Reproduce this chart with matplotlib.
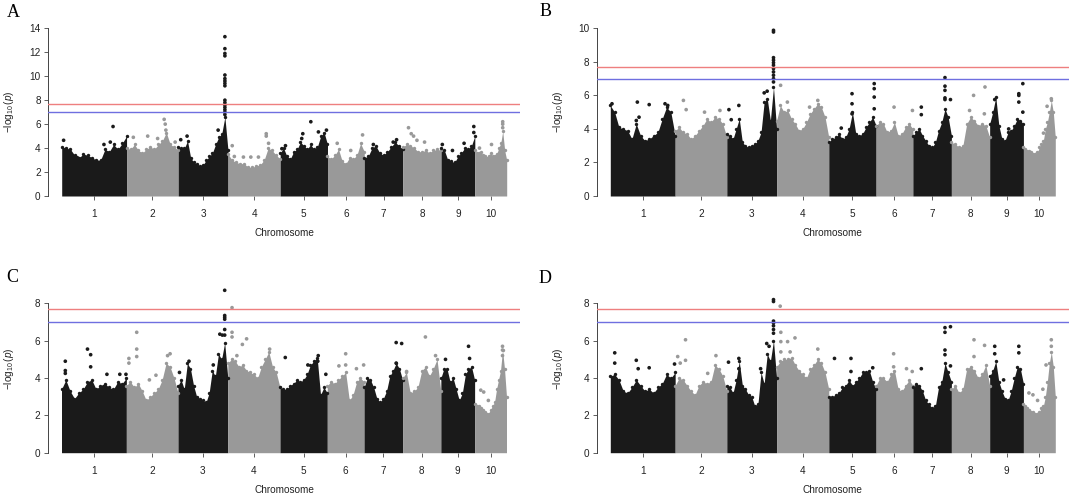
import numpy as np
import matplotlib.pyplot as plt

plt.rcParams['font.family'] = ['Liberation Sans', 'DejaVu Sans']
plt.rcParams['mathtext.fontset'] = 'custom'
plt.rcParams['mathtext.rm'] = 'Liberation Sans'
plt.rcParams['mathtext.it'] = 'Liberation Sans:italic'

# maize chromosomes (Mb)
chrom_names = ['1', '2', '3', '4', '5', '6', '7', '8', '9', '10']
chrom_len = [307.0, 244.4, 235.7, 247.0, 223.9, 174.0, 182.4, 181.1, 159.8, 150.9]
chrom_cols = ['#1a1a1a', '#999999']
red_line = 7.7
blue_line = 6.98

# upper outline of the dense point cloud, evenly spaced along each chromosome
env_a = [
    [4.1, 4.0, 3.9, 3.4, 3.2, 3.5, 3.4, 3.2, 3.0, 3.0, 3.9, 3.7, 4.3, 3.9, 4.4, 5.0],
    [4.0, 3.9, 4.3, 3.8, 3.6, 3.9, 4.1, 3.9, 4.3, 4.6, 5.3, 4.3, 4.1, 3.8],
    [4.1, 4.0, 4.0, 4.6, 3.2, 2.8, 2.7, 2.5, 2.6, 3.0, 3.3, 3.6, 4.3, 4.9, 5.2, 6.6, 3.8],
    [3.5, 3.0, 2.8, 2.7, 2.7, 2.4, 2.4, 2.5, 2.6, 3.0, 4.0, 3.8, 3.4, 3.1],
    [3.6, 4.0, 3.3, 3.1, 3.7, 3.9, 4.5, 4.2, 3.9, 4.3, 3.9, 4.1, 5.0, 5.3, 4.3],
    [3.3, 3.1, 3.4, 3.9, 2.9, 2.7, 3.2, 3.1, 3.4, 4.4, 3.7],
    [3.2, 3.3, 4.0, 4.2, 3.6, 3.4, 3.7, 4.1, 4.5, 4.2, 3.9],
    [4.1, 4.3, 4.2, 4.0, 3.7, 3.7, 3.8, 3.6, 3.8, 3.9, 3.8],
    [4.0, 3.8, 3.0, 2.9, 2.8, 3.3, 3.6, 4.0, 3.9, 4.2, 5.0],
    [3.8, 3.6, 3.6, 3.7, 3.4, 3.3, 3.2, 3.3, 3.6, 3.3, 3.3, 3.5, 4.0, 4.4, 5.4, 3.8, 3.0],
]
env_b = [
    [5.4, 5.0, 4.1, 4.0, 3.9, 3.4, 4.3, 3.6, 3.3, 3.4, 3.6, 3.8, 4.6, 5.3, 5.0, 3.6],
    [3.9, 4.1, 3.8, 3.7, 3.4, 3.6, 3.9, 4.2, 4.6, 4.4, 4.7, 4.6, 4.3, 3.5],
    [3.7, 3.6, 3.4, 4.0, 4.6, 3.2, 3.0, 2.9, 3.0, 3.1, 3.3, 3.8, 5.6, 5.8, 4.5, 6.5, 4.0],
    [4.5, 5.4, 5.0, 5.1, 4.6, 4.3, 3.9, 4.0, 4.4, 4.9, 5.2, 5.5, 5.3, 4.7, 3.5],
    [3.2, 3.4, 3.5, 3.7, 3.4, 3.5, 4.0, 5.0, 3.7, 3.6, 3.7, 4.1, 4.4, 4.7, 4.2],
    [4.2, 4.4, 4.3, 3.8, 3.9, 4.4, 3.6, 3.7, 4.1, 4.3, 4.0],
    [3.6, 3.8, 4.0, 3.6, 3.3, 3.0, 2.9, 3.2, 3.9, 4.4, 5.2, 4.7, 3.6],
    [3.2, 3.1, 2.9, 3.0, 4.3, 4.7, 4.5, 4.2, 4.3, 4.2, 3.5],
    [4.3, 5.0, 5.9, 4.2, 3.4, 3.3, 3.8, 3.9, 4.2, 4.6, 4.5, 4.3],
    [2.9, 2.8, 2.7, 2.7, 2.6, 2.5, 2.5, 2.6, 2.9, 3.1, 3.3, 4.0, 4.4, 5.0, 5.7, 5.0, 3.5],
]
env_c = [
    [3.4, 3.9, 3.3, 2.9, 3.2, 3.4, 3.8, 3.9, 3.4, 3.6, 3.7, 3.5, 3.4, 3.8, 3.7, 4.0],
    [3.6, 3.8, 3.5, 3.7, 3.3, 2.8, 3.0, 3.2, 3.4, 3.9, 4.8, 4.6, 4.0, 3.2],
    [3.6, 3.9, 3.4, 4.8, 4.5, 3.6, 3.0, 2.9, 2.8, 2.7, 3.2, 4.4, 4.1, 5.3, 5.0, 5.9, 4.0],
    [4.8, 5.0, 4.9, 4.6, 4.7, 4.4, 4.3, 4.2, 4.0, 4.6, 5.0, 5.4, 4.6, 4.3, 3.5],
    [3.5, 3.4, 3.4, 3.6, 3.7, 3.9, 3.8, 3.9, 4.2, 4.7, 4.9, 5.1, 3.1, 3.5, 3.2],
    [3.6, 3.8, 3.7, 3.9, 4.1, 4.3, 2.8, 3.1, 3.8, 4.0, 3.8],
    [3.5, 4.0, 3.9, 3.5, 2.9, 2.7, 2.9, 3.3, 4.1, 4.4, 4.8, 4.5, 3.9],
    [4.0, 4.3, 3.2, 3.3, 3.5, 4.4, 4.6, 4.1, 4.5, 5.0, 3.3],
    [4.0, 4.5, 4.5, 3.8, 4.0, 3.4, 2.8, 3.2, 4.2, 4.5, 4.6, 3.9],
    [2.6, 2.5, 2.5, 2.4, 2.3, 2.2, 2.1, 2.1, 2.3, 2.5, 2.7, 3.4, 3.9, 4.4, 5.5, 4.5, 3.0],
]
env_d = [
    [4.1, 4.2, 3.9, 3.3, 3.2, 3.5, 3.9, 3.6, 3.3, 3.4, 3.2, 3.5, 3.7, 4.2, 4.0, 4.3],
    [3.6, 4.0, 3.9, 3.6, 3.3, 3.1, 3.6, 3.8, 3.7, 3.8, 4.7, 4.5, 4.1, 3.3],
    [3.6, 3.5, 3.2, 3.9, 4.9, 3.6, 3.4, 3.1, 3.0, 2.5, 2.6, 4.3, 3.7, 5.3, 4.9, 6.0, 4.0],
    [4.6, 4.9, 5.0, 5.0, 5.1, 4.7, 4.4, 4.2, 4.0, 4.5, 4.7, 5.0, 4.8, 4.3, 3.4],
    [3.0, 3.0, 3.1, 3.2, 3.5, 3.6, 3.9, 3.6, 3.8, 4.0, 4.3, 4.3, 4.4, 3.8, 3.4],
    [3.6, 4.0, 4.0, 3.8, 4.2, 4.4, 3.4, 3.3, 3.6, 3.9, 3.6],
    [3.5, 3.7, 3.6, 3.3, 2.8, 2.6, 2.4, 2.5, 3.5, 3.8, 4.8, 4.3, 3.8],
    [3.4, 3.6, 3.2, 3.4, 4.5, 4.6, 4.4, 4.0, 4.2, 4.7, 3.6],
    [4.1, 4.4, 4.9, 3.8, 3.3, 2.9, 2.8, 3.3, 4.0, 4.6, 4.5, 3.7],
    [2.6, 2.5, 2.4, 2.3, 2.2, 2.2, 2.1, 2.1, 2.2, 2.4, 2.5, 3.0, 3.8, 4.8, 5.4, 4.6, 3.0],
]

# single SNPs standing out of the cloud: (chromosome, position Mb, -log10 p)
dots_a = [
    (1, 9, 4.65), (1, 74, 3.2), (1, 200, 4.3), (1, 230, 4.5), (1, 243, 5.8),
    (2, 32, 4.9), (2, 100, 5.0), (2, 147, 4.8), (2, 178, 6.4), (2, 183, 6.0), (2, 186, 5.5), (2, 230, 4.5),
    (3, 12, 4.7), (3, 42, 5.0), (3, 189, 5.5),
    (3, 221, 13.3), (3, 221, 12.3), (3, 221, 11.9), (3, 221, 11.7), (3, 221, 10.1), (3, 221, 9.8),
    (3, 221, 9.6), (3, 221, 9.4), (3, 221, 9.2), (3, 221, 8.0), (3, 221, 7.8), (3, 221, 7.6),
    (3, 221, 7.4), (3, 221, 7.2), (3, 221, 7.0), (3, 221, 6.8),
    (4, 20, 4.2), (4, 30, 3.3), (4, 73, 3.25), (4, 108, 3.25), (4, 144, 3.25), (4, 181, 5.2), (4, 181, 5.0), (4, 192, 4.4),
    (5, 8, 3.95), (5, 25, 4.2), (5, 102, 4.8), (5, 107, 5.2), (5, 145, 6.2), (5, 181, 5.35), (5, 219, 5.5),
    (6, 46, 4.4), (6, 110, 3.8), (6, 166, 5.1),
    (7, 43, 4.3), (7, 137, 4.5), (7, 153, 4.7),
    (8, 27, 5.7), (8, 40, 5.2), (8, 51, 5.0), (8, 67, 4.65), (8, 103, 4.5),
    (9, 6, 4.3), (9, 54, 3.8), (9, 109, 4.4), (9, 155, 5.8), (9, 155, 5.3),
    (10, 22, 4.0), (10, 79, 4.3), (10, 132, 6.2), (10, 132, 6.0), (10, 132, 5.7),
]
dots_b = [
    (1, 8, 5.5), (1, 123, 4.5), (1, 128, 5.6), (1, 136, 4.7), (1, 184, 5.45), (1, 259, 5.5), (1, 272, 5.4),
    (2, 39, 5.7), (2, 52, 5.15), (2, 139, 5.0), (2, 212, 5.1),
    (3, 10, 5.15), (3, 21, 4.55), (3, 57, 5.4), (3, 177, 6.15), (3, 191, 6.25),
    (3, 221, 9.88), (3, 221, 9.78), (3, 221, 8.25), (3, 221, 8.1), (3, 221, 7.95), (3, 221, 7.8),
    (3, 221, 7.6), (3, 221, 7.4), (3, 221, 7.2), (3, 221, 7.0), (3, 221, 6.8),
    (4, 19, 6.6), (4, 51, 5.6), (4, 156, 5.3), (4, 195, 5.7),
    (5, 59, 4.05), (5, 110, 6.1), (5, 110, 5.5), (5, 110, 4.9), (5, 215, 6.7), (5, 215, 6.4), (5, 215, 5.9), (5, 215, 5.2),
    (6, 85, 5.3), (6, 172, 5.1),
    (7, 40, 5.3), (7, 40, 4.85), (7, 152, 7.06), (7, 152, 6.55), (7, 152, 6.3), (7, 152, 5.85), (7, 152, 5.75), (7, 178, 5.75),
    (8, 86, 5.1), (8, 105, 6.0), (8, 156, 4.9), (8, 159, 6.5),
    (9, 24, 5.75), (9, 90, 4.0), (9, 138, 6.1), (9, 138, 6.0), (9, 138, 5.6), (9, 157, 6.7), (9, 157, 5.0),
    (10, 95, 3.75), (10, 112, 5.35), (10, 132, 5.8),
]
dots_c = [
    (1, 18, 4.9), (1, 18, 4.4), (1, 18, 4.25), (1, 123, 5.55), (1, 138, 5.25), (1, 138, 4.6),
    (1, 215, 4.2), (1, 276, 4.2), (1, 305, 4.2),
    (2, 12, 5.05), (2, 12, 4.8), (2, 49, 6.45), (2, 49, 5.55), (2, 49, 5.15), (2, 109, 3.9),
    (2, 140, 4.15), (2, 195, 5.2), (2, 207, 5.3),
    (3, 7, 4.3), (3, 52, 4.9), (3, 167, 4.7), (3, 198, 6.35), (3, 210, 6.3),
    (3, 221, 8.7), (3, 221, 7.35), (3, 221, 7.25), (3, 221, 7.15), (3, 221, 6.6), (3, 221, 6.3),
    (4, 20, 7.77), (4, 20, 6.45), (4, 20, 6.2), (4, 43, 5.2), (4, 69, 5.8), (4, 89, 6.1), (4, 198, 5.55),
    (5, 25, 5.1), (5, 132, 4.7), (5, 179, 4.9), (5, 181, 5.2), (5, 217, 4.2),
    (6, 55, 4.65), (6, 87, 5.3), (6, 87, 4.7), (6, 138, 4.5), (6, 172, 4.7),
    (7, 152, 5.9), (7, 152, 4.8), (7, 178, 5.85),
    (8, 19, 4.35), (8, 108, 6.2), (8, 156, 5.2),
    (9, 22, 5.0), (9, 131, 5.7), (9, 136, 5.05),
    (10, 29, 3.35), (10, 43, 3.25), (10, 65, 2.8), (10, 132, 5.7), (10, 132, 5.5), (10, 132, 5.2),
]
dots_d = [
    (1, 21, 5.35), (1, 21, 4.8), (1, 123, 4.95), (1, 132, 4.5), (1, 184, 4.55), (1, 304, 4.75),
    (2, 12, 5.15), (2, 24, 4.8), (2, 49, 6.05), (2, 49, 4.95), (2, 154, 4.25), (2, 193, 5.2),
    (3, 8, 4.85), (3, 57, 5.05), (3, 57, 4.5), (3, 160, 4.5), (3, 189, 5.85), (3, 200, 5.7),
    (3, 221, 8.2), (3, 221, 8.1), (3, 221, 7.05), (3, 221, 6.95), (3, 221, 6.8), (3, 221, 6.6), (3, 221, 6.4),
    (4, 17, 7.85), (4, 20, 6.45), (4, 20, 5.95), (4, 20, 5.4), (4, 52, 5.95), (4, 64, 5.4), (4, 87, 6.15), (4, 195, 5.55),
    (5, 27, 5.05), (5, 105, 5.05), (5, 105, 4.35), (5, 208, 4.55),
    (6, 83, 5.3), (6, 83, 4.6), (6, 144, 4.5), (6, 171, 4.35),
    (7, 40, 4.5), (7, 152, 6.7), (7, 152, 6.45), (7, 152, 5.5), (7, 152, 5.25), (7, 178, 6.75), (7, 178, 4.65),
    (8, 107, 6.05), (8, 107, 5.15), (8, 157, 5.75),
    (9, 24, 5.7), (9, 24, 5.3), (9, 66, 3.9), (9, 138, 5.7), (9, 138, 5.35),
    (10, 26, 3.2), (10, 45, 3.1), (10, 67, 2.8), (10, 92, 3.4), (10, 107, 4.7), (10, 132, 6.05), (10, 132, 5.7),
]

offsets = np.concatenate([[0], np.cumsum(chrom_len)[:-1]])
total = float(np.sum(chrom_len))
centers = offsets + np.array(chrom_len) / 2

W, H = 1072, 497
fig = plt.figure(figsize=(W / 100, H / 100), dpi=100)

# panel: letter, data, y max, letter position (px), data span / plot top / plot bottom (px)
panels = [
    ('A', env_a, dots_a, 14, (7, 17), (61.7, 506.7, 28.3, 196.0)),
    ('B', env_b, dots_b, 10, (540, 16.5), (610.3, 1055.3, 28.3, 196.0)),
    ('C', env_c, dots_c, 9, (6, 282), (61.5, 506.5, 284.7, 452.7)),
    ('D', env_d, dots_d, 9, (539, 283), (610.3, 1055.3, 284.7, 452.7)),
]

fs = 7.2
for letter, env, dots, ymax, (lx, ly), (d0, d1, top, bot) in panels:
    pad = 0.03 * (d1 - d0)
    left, right = d0 - pad, d1 + pad
    ax = fig.add_axes([left / W, 1 - bot / H, (right - left) / W, (bot - top) / H])

    for i, vals in enumerate(env):
        col = chrom_cols[i % 2]
        x = offsets[i] + np.linspace(0, chrom_len[i], len(vals))
        ax.fill_between(x, 0, vals, color=col, lw=0, zorder=2)
        ax.scatter(x, vals, s=6, color=col, lw=0, zorder=3)

    c = np.array([d[0] for d in dots]) - 1
    xs = offsets[c] + np.array([d[1] for d in dots])
    ys = np.array([d[2] for d in dots])
    cols = [chrom_cols[k % 2] for k in c]
    ax.scatter(xs, ys, s=7, c=cols, lw=0, zorder=3)

    ax.axhline(red_line, color='#ee7f7f', lw=1.0, zorder=4)
    ax.axhline(blue_line, color='#6f6fe0', lw=1.0, zorder=4)

    ax.set_xlim(-0.03 * total, 1.03 * total)
    ax.set_ylim(0, ymax)
    yt = np.arange(0, ymax + 0.1, 2)
    yt = yt[yt <= ymax]
    ax.set_yticks(yt)
    ax.set_yticklabels([f'{int(v)}' for v in yt])
    ax.set_xticks(centers)
    ax.set_xticklabels(chrom_names)

    for s in ['top', 'right', 'bottom']:
        ax.spines[s].set_visible(False)
    ax.spines['left'].set_bounds(0, yt[-1])
    ax.spines['left'].set_color('#444444')
    ax.spines['left'].set_linewidth(0.7)
    ax.tick_params(axis='y', length=3, width=0.6, color='#444444', pad=2.5, labelsize=fs, colors='#222222')
    ax.tick_params(axis='x', length=3, width=0.6, color='#444444', pad=6.5, labelsize=fs, colors='#222222')

    ax.annotate('Chromosome', xy=(0.5, 0), xycoords='axes fraction', xytext=(0, -27),
                textcoords='offset points', ha='center', va='center', fontsize=fs, color='#222222')
    ax.annotate(r'$-\log_{10}(p)$', xy=(0, 0.5), xycoords='axes fraction', xytext=(-28, 0),
                textcoords='offset points', ha='center', va='center', rotation=90,
                fontsize=fs, color='#222222')

    fig.text(lx / W, 1 - ly / H, letter, family='Liberation Serif', fontsize=13,
             ha='left', va='baseline')

fig.savefig('out.png', dpi=100)
